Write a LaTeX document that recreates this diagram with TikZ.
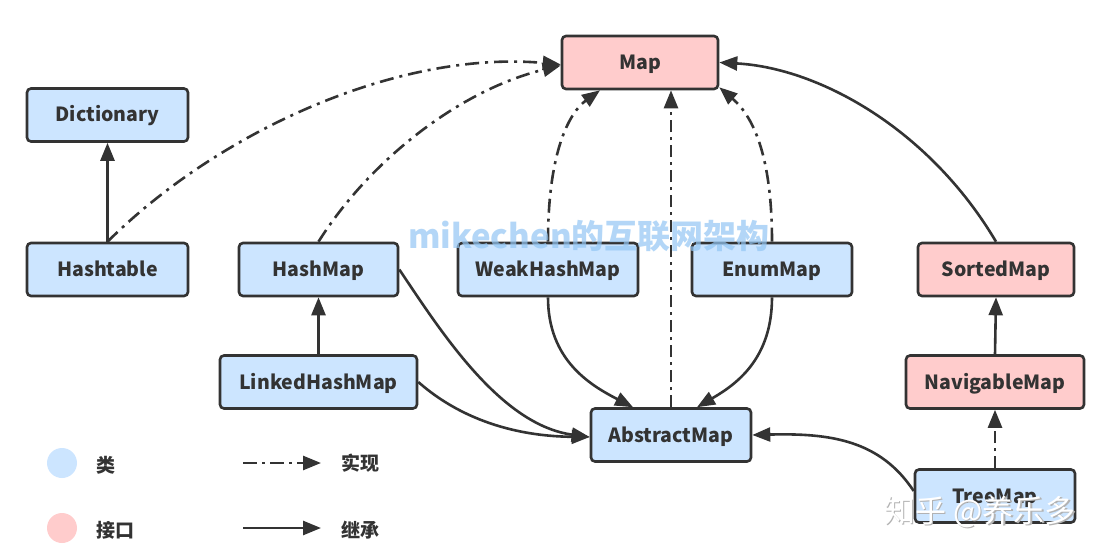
\documentclass[tikz,border=0pt]{standalone}
\usepackage{fontspec}
\newfontfamily\cjk{Noto Sans CJK SC}
\usetikzlibrary{arrows.meta}
\definecolor{ln}{HTML}{333333}
\definecolor{cls}{HTML}{CCE5FF}
\definecolor{ifc}{HTML}{FFCCCC}
\definecolor{wm}{HTML}{93C6F4}
\begin{document}
\begin{tikzpicture}[x=1pt,y=-1pt,
 box/.style={draw=ln, line width=2.6pt, rounded corners=4pt, text=ln, inner sep=0pt,
   font=\cjk\bfseries\fontsize{19.5}{19.5}\selectfont, minimum height=53pt,
   text height=18pt, text depth=4pt},
 cbox/.style={box, fill=cls},
 ibox/.style={box, fill=ifc},
 inh/.style={draw=ln, line width=2.6pt, -{Triangle[length=18pt,width=14pt]}},
 impl/.style={inh, dash pattern=on 14pt off 6pt on 3pt off 6pt},
 legtxt/.style={text=ln, font=\cjk\bfseries\fontsize{19}{19}\selectfont, inner sep=0pt},
]
\useasboundingbox[fill=white] (0,0) rectangle (1111,559);

% nodes
\node[ibox, minimum width=156pt] (map) at (640,62.5) {Map};
\node[cbox, minimum width=161pt] (dict) at (107.5,115) {Dictionary};
\node[cbox, minimum width=161pt] (ht) at (107.5,269.5) {Hashtable};
\node[cbox, minimum width=159pt] (hm) at (318.5,269.5) {HashMap};
\node[cbox, minimum width=180pt] (whm) at (548,269.5) {WeakHashMap};
\node[cbox, minimum width=160pt] (em) at (772,269.5) {EnumMap};
\node[ibox, minimum width=156pt] (sm) at (996,269.5) {SortedMap};
\node[cbox, minimum width=197pt] (lhm) at (318.5,382) {LinkedHashMap};
\node[ibox, minimum width=178pt] (nm) at (995,382) {NavigableMap};
\node[cbox, minimum width=160pt] (am) at (671,435) {AbstractMap};
\node[cbox, minimum width=160pt] (tm) at (995,496) {TreeMap};

% straight connectors
\draw[inh] (ht.north) -- (dict.south);
\draw[inh] (lhm.north) -- (hm.south);
\draw[inh] (nm.north) -- (sm.south);
\draw[impl, dash pattern=on 12pt off 5pt on 3pt off 5pt] (tm.north) -- (nm.south);
\draw[impl, dash pattern=on 12pt off 5pt on 3pt off 5pt] (am.north) -- (am.north |- map.south);

% curved implementations to Map
\draw[impl] (ht.north) .. controls (220,130) and (400,50) .. ([yshift=-2pt]map.west);
\draw[impl] (hm.north) .. controls (370,160) and (460,90) .. ([yshift=-3pt]map.west);
\draw[impl] (whm.north) .. controls (548,150) and (570,112) .. ([xshift=-40pt]map.south);
\draw[impl] (em.north) .. controls (772,160) and (755,118) .. ([yshift=3pt]map.south east);

% inheritance curves
\draw[inh] (sm.north) .. controls (930,130) and (820,68) .. (map.east);
\draw[inh] (hm.east) .. controls (440,330) and (500,425) .. ([yshift=-2pt]am.west);
\draw[inh] (lhm.east) .. controls (450,410) and (500,436) .. ([yshift=-2pt]am.west);
\draw[inh] (whm.south) .. controls (548,360) and (590,385) .. ([xshift=-38pt]am.north);
\draw[inh] (em.south) .. controls (772,360) and (735,385) .. ([xshift=26pt]am.north);
\draw[inh] ([yshift=5pt]tm.west) .. controls (880,440) and (830,433) .. (am.east);

% legend
\fill[cls] (62,463) circle[radius=15pt];
\fill[ifc] (62,528) circle[radius=15pt];
\node[legtxt] (lcls) at (106,465) {类};
\node[legtxt] (lifc) at (115,530) {接口};
\coordinate (i1) at (243,463);
\coordinate (i2) at (321,463);
\coordinate (e1) at (243,528);
\coordinate (e2) at (321,528);
\draw[impl, dash pattern=on 14pt off 5pt on 3pt off 5pt] (i1) -- (i2);
\draw[inh] (e1) -- (e2);
\node[legtxt] (limpl) at (360,463) {实现};
\node[legtxt] (linh) at (360,530) {继承};

% watermarks
\node[text=wm, opacity=0.7, font=\cjk\bfseries\fontsize{33}{33}\selectfont, inner sep=0pt] (wm1) at (589,236) {mikechen的互联网架构};
\node[text=gray!60, font=\cjk\fontsize{31}{31}\selectfont, inner sep=0pt] (wm2s) at (981.5,513.5) {知乎 @养乐多};
\node[text=white, font=\cjk\fontsize{31}{31}\selectfont, inner sep=0pt] (wm2) at (980,512) {知乎 @养乐多};
\end{tikzpicture}
\end{document}
